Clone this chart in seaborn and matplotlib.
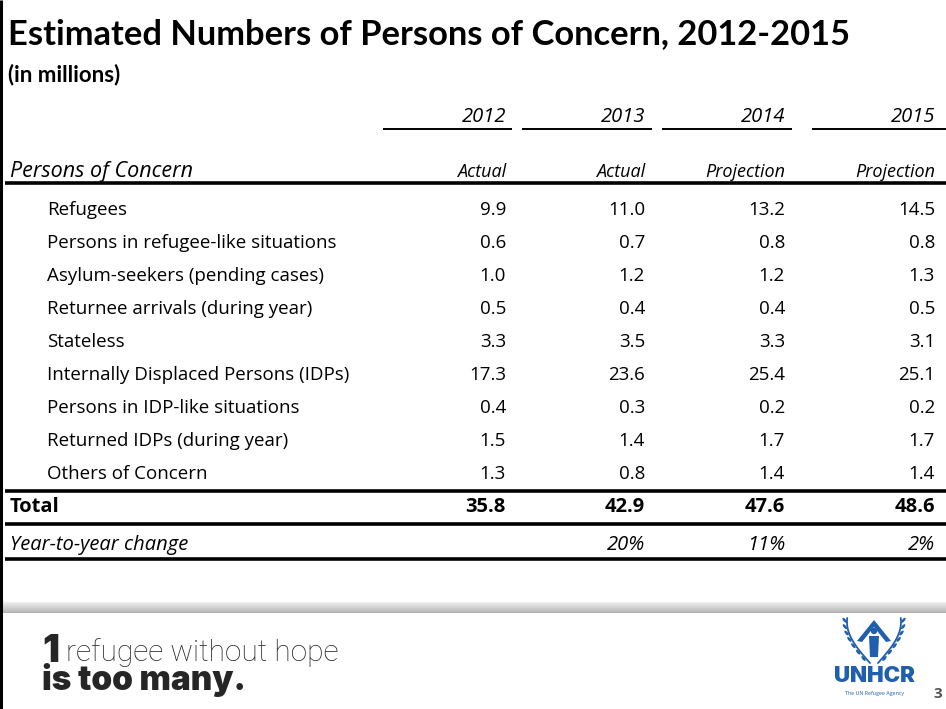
import matplotlib
matplotlib.use("Agg")
import matplotlib.pyplot as plt
from matplotlib.patches import Ellipse, Circle, Polygon
import seaborn as sns
import numpy as np
import pandas as pd

# Table content (millions of persons)
years = ["2012", "2013", "2014", "2015"]
status = ["Actual", "Actual", "Projection", "Projection"]
categories = [
    "Refugees",
    "Persons in refugee-like situations",
    "Asylum-seekers (pending cases)",
    "Returnee arrivals (during year)",
    "Stateless",
    "Internally Displaced Persons (IDPs)",
    "Persons in IDP-like situations",
    "Returned IDPs (during year)",
    "Others of Concern",
]
v2012 = [9.9, 0.6, 1.0, 0.5, 3.3, 17.3, 0.4, 1.5, 1.3]
v2013 = [11.0, 0.7, 1.2, 0.4, 3.5, 23.6, 0.3, 1.4, 0.8]
v2014 = [13.2, 0.8, 1.2, 0.4, 3.3, 25.4, 0.2, 1.7, 1.4]
v2015 = [14.5, 0.8, 1.3, 0.5, 3.1, 25.1, 0.2, 1.7, 1.4]
totals = [35.8, 42.9, 47.6, 48.6]
yoy_change = ["", "20%", "11%", "2%"]

df = pd.DataFrame({"2012": v2012, "2013": v2013, "2014": v2014, "2015": v2015},
                  index=categories)

sns.set_theme(style="white")
plt.rcParams["font.family"] = ["Open Sans", "DejaVu Sans"]

W, H = 946, 709
fig = plt.figure(figsize=(W / 100, H / 100), dpi=100)
ax = fig.add_axes([0, 0, 1, 1])
ax.set_xlim(0, W)
ax.set_ylim(H, 0)
ax.axis("off")

INK = "black"

# left page border
ax.plot([1, 1], [0, H], color=INK, lw=2.2, solid_capstyle="butt")

ax.text(8, 34, "Estimated Numbers of Persons of Concern, 2012-2015",
        fontsize=24.8, fontweight="bold", va="center", ha="left", color=INK,
        family=["Lato", "DejaVu Sans"])
ax.text(8, 75, "(in millions)", fontsize=16, fontweight="bold",
        va="center", ha="left", color=INK, family=["Lato", "DejaVu Sans"])

col_right = [506, 645, 785, 935]
year_rules = [(383, 512), (522, 652), (662, 792), (812, 946)]

for yr, st, xr, (a, b) in zip(years, status, col_right, year_rules):
    ax.text(xr, 117, yr, fontsize=14.5, style="italic", ha="right", va="center", color=INK)
    ax.plot([a, b], [128.5, 128.5], color=INK, lw=1.4, solid_capstyle="butt")
    ax.text(xr, 172, st, fontsize=13, style="italic", ha="right", va="center", color=INK)

ax.text(10, 172, "Persons of Concern", fontsize=15.5, style="italic",
        ha="left", va="center", color=INK)

def rule(y, lw=2.6):
    ax.plot([5, W], [y, y], color=INK, lw=lw, solid_capstyle="butt")

rule(182.5)

row_y0, row_dy = 210, 33
for i, cat in enumerate(df.index):
    y = row_y0 + i * row_dy
    ax.text(47, y, cat, fontsize=13.5, ha="left", va="center", color=INK)
    for xr, yr in zip(col_right, years):
        ax.text(xr, y, f"{df.loc[cat, yr]:.1f}", fontsize=13.5, ha="right",
                va="center", color=INK)

rule(490.5)
ax.text(10, 507, "Total", fontsize=14.5, fontweight="bold", ha="left", va="center", color=INK)
for xr, t in zip(col_right, totals):
    ax.text(xr, 507, f"{t:.1f}", fontsize=14.5, fontweight="bold",
            ha="right", va="center", color=INK)
rule(523.5)
ax.text(10, 545, "Year-to-year change", fontsize=14.5, style="italic",
        ha="left", va="center", color=INK)
for xr, c in zip(col_right, yoy_change):
    ax.text(xr, 545, c, fontsize=14.5, style="italic", ha="right", va="center", color=INK)
rule(558.5)

# grey footer band
band = np.concatenate([np.linspace(0.93, 0.80, 7), np.linspace(0.78, 0.70, 4)]).reshape(-1, 1)
ax.imshow(band, cmap="gray", vmin=0, vmax=1, extent=(3, W, 613, 602),
          aspect="auto", zorder=1)

# slogan
ax.text(42, 662, "1", fontsize=27, fontweight="black", ha="left",
        va="baseline", family=["Inter", "DejaVu Sans"])
ax.text(66, 661, "refugee without hope", fontsize=21.5, fontweight="light",
        ha="left", va="baseline", family=["Roboto", "DejaVu Sans"])
ax.text(42, 690, "is too many.", fontsize=24, fontweight="black",
        ha="left", va="baseline", family=["Inter", "DejaVu Sans"])

# agency mark: sheltering hands, figure and laurel branches
blue = "#1f5fad"
cx = 874
ax.text(cx, 676, "UNHCR", fontsize=16, fontweight="black", color=blue,
        ha="center", va="center", family=["Inter", "DejaVu Sans"])
ax.text(cx, 693, "The UN Refugee Agency", fontsize=3.8, color=blue,
        ha="center", va="center")
ax.add_patch(Polygon([[cx - 17, 641], [cx, 620], [cx + 17, 641],
                      [cx + 12, 642], [cx, 627], [cx - 12, 642]],
                     closed=True, color=blue, lw=0))
ax.add_patch(Circle((cx, 631), 3.2, color=blue, lw=0))
ax.add_patch(Polygon([[cx - 5, 636], [cx + 5, 636], [cx + 4, 657], [cx - 4, 657]],
                     closed=True, color=blue, lw=0))
for s in (-1, 1):
    t = np.linspace(0, 1, 25)
    xs = cx + s * (4 + 23 * np.sin(t * np.pi * 0.55))
    ys = 663 - 45 * t
    ax.plot(xs, ys, color=blue, lw=1.3)
    for k in np.linspace(0.1, 0.95, 7):
        xk = cx + s * (4 + 23 * np.sin(k * np.pi * 0.55))
        yk = 663 - 45 * k
        ax.add_patch(Ellipse((xk + s * 2.5, yk), 6, 2.6, angle=-s * 50,
                             color=blue, lw=0))

ax.text(938, 694, "3", fontsize=11, fontweight="bold", color="#555555",
        ha="center", va="center")

fig.savefig("out.png", dpi=100, facecolor="white")
